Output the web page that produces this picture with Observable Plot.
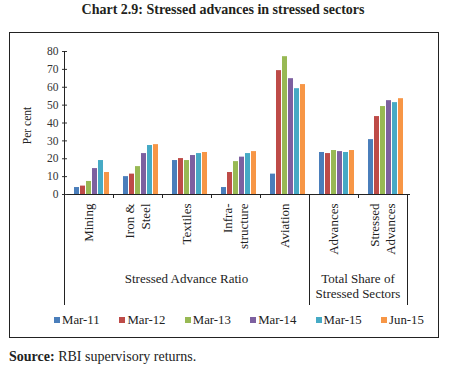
<!DOCTYPE html>
<html>
<head>
<meta charset="utf-8">
<script src="https://cdn.jsdelivr.net/npm/d3@7"></script>
<script src="https://cdn.jsdelivr.net/npm/@observablehq/plot@0.6"></script>
<style>
  html, body { margin: 0; padding: 0; background: #fff; }
  #wrap { position: relative; width: 458px; height: 369px; overflow: hidden; }
  #title { position: absolute; left: 0; width: 446px; top: 2px; text-align: center;
           font: bold 14px "Liberation Serif", serif; color: #231f20; }
  #box { position: absolute; left: 9px; top: 32px; width: 428px; height: 304px; border: 1px solid #222; box-sizing: content-box; }
  #chart { position: absolute; left: 0; top: 0; }
  #legend { position: absolute; top: 313px; left: 0; font: 12.8px "Liberation Serif", serif; color: #222; }
  .item { position: absolute; white-space: nowrap; line-height: 14px; }
  .sw { display: inline-block; width: 6px; height: 6px; margin-right: 2px; vertical-align: 1px; }
  #source { position: absolute; left: 9px; top: 349px; font: 14px "Liberation Serif", serif; color: #222; }
</style>
</head>
<body>
<div id="wrap">
  <div id="title">Chart 2.9: Stressed advances in stressed sectors</div>
  <div id="box"></div>
  <div id="chart"></div>
  <div id="legend"></div>
  <div id="source"><b>Source:</b> RBI supervisory returns.</div>
</div>
<script>
const categories = ["Mining", "Iron &\nSteel", "Textiles", "Infra-\nstructure", "Aviation", "Advances", "Stressed\nAdvances"];
const series = ["Mar-11", "Mar-12", "Mar-13", "Mar-14", "Mar-15", "Jun-15"];
const mar11 = [3.9, 10.0, 19.0, 3.9, 11.4, 23.5, 30.7];
const mar12 = [4.7, 11.4, 20.1, 12.3, 69.3, 22.9, 43.6];
const mar13 = [7.3, 15.6, 19.0, 18.4, 77.1, 24.6, 49.2];
const mar14 = [14.5, 22.9, 21.8, 20.9, 64.8, 24.0, 52.5];
const mar15 = [19.0, 27.4, 22.9, 22.9, 59.2, 23.5, 51.4];
const jun15 = [12.3, 27.9, 23.5, 24.0, 61.5, 24.6, 53.6];
const groupLabels = ["Stressed Advance Ratio", "Total Share of\nStressed Sectors"];
const groupSpans = [[0, 4], [5, 6]];
const yTicks = [0, 10, 20, 30, 40, 50, 60, 70, 80];
const colors = ["#4A7EBB", "#BE4B48", "#98B954", "#7D60A0", "#46AAC5", "#F79646"];

const seriesValues = [mar11, mar12, mar13, mar14, mar15, jun15];
const data = [];
categories.forEach((c, i) => series.forEach((s, j) => data.push({cat: c, series: s, value: seriesValues[j][i]})));

const serif = "Liberation Serif, serif";
const single = categories.filter(c => !c.includes("\n"));
const multi = categories.filter(c => c.includes("\n"));

const plot = Plot.plot({
  width: 458,
  height: 369,
  marginLeft: 64,
  marginRight: 46,
  marginTop: 51,
  marginBottom: 175,
  style: {fontFamily: serif, fontSize: "11.5px", color: "#333", background: "transparent"},
  fx: {domain: categories, padding: 0, axis: null},
  x: {domain: series, padding: 0.09, paddingOuter: 0.89, axis: null},
  y: {domain: [0, 80], ticks: yTicks, tickSize: 5, tickPadding: 4, label: null, grid: false},
  color: {domain: series, range: colors},
  marks: [
    Plot.barY(data, {fx: "cat", x: "series", y: "value", fill: "series"}),
    Plot.ruleY([0], {stroke: "#222", strokeWidth: 1}),
    Plot.text(single, {fx: d => d, text: d => d, frameAnchor: "bottom", rotate: -90, textAnchor: "end",
      dy: 9, dx: 1, fontFamily: serif, fontSize: 13, fill: "#222"}),
    Plot.text(multi, {fx: d => d, text: d => d, frameAnchor: "bottom", rotate: -90, textAnchor: "end",
      dy: 9, dx: 8.5, lineHeight: 1.17, fontFamily: serif, fontSize: 13, fill: "#222"})
  ]
});
document.getElementById("chart").appendChild(plot);

// structural lines and group labels positioned from Plot's own scales
const fxS = plot.scale("fx"), yS = plot.scale("y");
const step = fxS.step;
const fxLeft = i => fxS.range[0] + i * step;
const y0 = yS.apply ? yS.apply(0) : 194;
const yTop = yS.apply ? yS.apply(80) : 51;
const svg = d3.select(plot);
const g = svg.append("g").attr("stroke", "#222").attr("stroke-width", 1);
// y axis line
g.append("line").attr("x1", fxLeft(0) + 0.5).attr("x2", fxLeft(0) + 0.5).attr("y1", yTop).attr("y2", y0);
// short separator ticks
for (let i = 0; i <= categories.length; i++) {
  g.append("line").attr("x1", Math.round(fxLeft(i)) + 0.5).attr("x2", Math.round(fxLeft(i)) + 0.5)
    .attr("y1", y0).attr("y2", y0 + 4);
}
// long group separators
const bounds = [0, groupSpans[0][1] + 1, categories.length];
bounds.forEach(b => {
  g.append("line").attr("x1", Math.round(fxLeft(b)) + 0.5).attr("x2", Math.round(fxLeft(b)) + 0.5)
    .attr("y1", y0).attr("y2", y0 + 111);
});
// group labels
groupLabels.forEach((lab, k) => {
  const cx = (fxLeft(groupSpans[k][0]) + fxLeft(groupSpans[k][1] + 1)) / 2;
  const t = svg.append("text").attr("text-anchor", "middle").attr("font-family", serif)
    .attr("font-size", 13).attr("fill", "#222");
  lab.split("\n").forEach((line, li) => {
    t.append("tspan").attr("x", cx).attr("y", y0 + 89 + li * 15).text(line);
  });
});
// y label
svg.append("text").attr("transform", `translate(${fxLeft(0) - 33},${(y0 + yTop) / 2 + 3}) rotate(-90)`)
  .attr("text-anchor", "middle").attr("font-family", serif).attr("font-size", 11.5).attr("fill", "#222")
  .text("Per cent");

// legend
const legend = document.getElementById("legend");
series.forEach((s, i) => {
  const d = document.createElement("div");
  d.className = "item";
  d.style.left = (54 + i * 65.4) + "px";
  d.innerHTML = `<span class="sw" style="background:${colors[i]}"></span>${s}`;
  legend.appendChild(d);
});
</script>
</body>
</html>
